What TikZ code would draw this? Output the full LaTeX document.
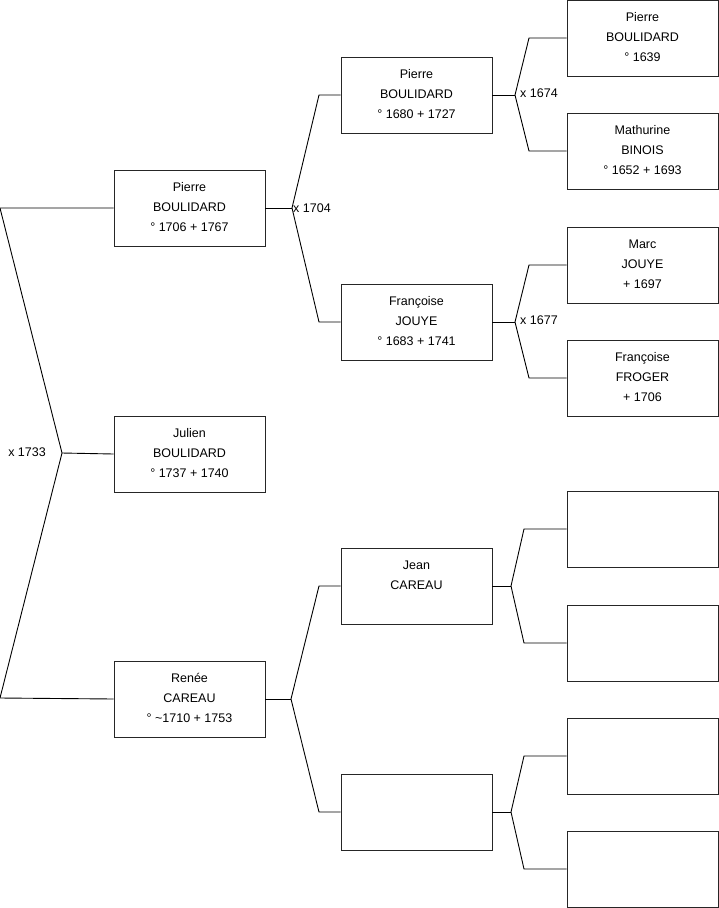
\documentclass[tikz,border=0pt]{standalone}
\usepackage{fontspec}
\setmainfont{Liberation Sans}
\tikzset{
  pbox/.style={draw=black!85, line width=0.9pt, minimum width=151pt, minimum height=76pt, inner sep=0pt},
  ptext/.style={anchor=north, inner sep=0pt, align=center, font=\fontsize{12.5}{20}\selectfont},
  link/.style={draw=black, line width=0.9pt},
  mlabel/.style={inner sep=0pt, font=\fontsize{12.5}{15}\selectfont}
}
\newcommand\pbox[4]{%
  \node[pbox] (#1) at (#2+75.5,#3+38) {};
  \node[ptext] (#1t) at (#2+75.5,#3+7) {#4};
}
\begin{document}
\begin{tikzpicture}[x=1pt,y=-1pt]
\useasboundingbox (0,0) rectangle (719,908);
% column 1
\pbox{p1}{114}{170}{\strut Pierre\\\strut BOULIDARD\\\strut ° 1706 + 1767}
\pbox{j}{114}{416}{\strut Julien\\\strut BOULIDARD\\\strut ° 1737 + 1740}
\pbox{r}{114}{661}{\strut Renée\\\strut CAREAU\\\strut ° \textasciitilde1710 + 1753}
% column 2
\pbox{p2}{341}{57}{\strut Pierre\\\strut BOULIDARD\\\strut ° 1680 + 1727}
\pbox{f2}{341}{284}{\strut Françoise\\\strut JOUYE\\\strut ° 1683 + 1741}
\pbox{jc}{341}{548}{\strut Jean\\\strut CAREAU}
\node[pbox] (e2) at (341+75.5,774+38) {};
% column 3
\pbox{p3}{567}{0}{\strut Pierre\\\strut BOULIDARD\\\strut ° 1639}
\pbox{m3}{567}{113}{\strut Mathurine\\\strut BINOIS\\\strut ° 1652 + 1693}
\pbox{mj}{567}{227}{\strut Marc\\\strut JOUYE\\\strut + 1697}
\pbox{ff}{567}{340}{\strut Françoise\\\strut FROGER\\\strut + 1706}
\node[pbox] (e3a) at (567+75.5,491+38) {};
\node[pbox] (e3b) at (567+75.5,605+38) {};
\node[pbox] (e3c) at (567+75.5,718+38) {};
\node[pbox] (e3d) at (567+75.5,831+38) {};
% root fork
\coordinate (ra) at (62,453);
\coordinate (rt) at (0,208);
\coordinate (rb) at (0,698);
\draw[link] (p1.west) -- (rt) -- (ra) -- (rb) -- (r.west);
\draw[link] (ra) -- (j.west);
\node[mlabel, anchor=east] (l1733) at (46,452) {x 1733};
% fork p1
\coordinate (a1) at (292,208);
\draw[link] (p1.east) -- (a1);
\draw[link] (p2.west) -- (319,95) -- (a1) -- (319,322) -- (f2.west);
\node[mlabel, anchor=west] (l1704) at (293,208) {x 1704};
% fork p2
\coordinate (a2) at (515,95);
\draw[link] (p2.east) -- (a2);
\draw[link] (p3.west) -- (529,38) -- (a2) -- (529,151) -- (m3.west);
\node[mlabel, anchor=west] (l1674) at (520,93) {x 1674};
% fork f2
\coordinate (a3) at (515,322);
\draw[link] (f2.east) -- (a3);
\draw[link] (mj.west) -- (529,265) -- (a3) -- (529,378) -- (ff.west);
\node[mlabel, anchor=west] (l1677) at (520,320) {x 1677};
% fork r
\coordinate (a4) at (291,699);
\draw[link] (r.east) -- (a4);
\draw[link] (jc.west) -- (319,586) -- (a4) -- (319,812) -- (e2.west);
% fork jc
\coordinate (a5) at (511,586);
\draw[link] (jc.east) -- (a5);
\draw[link] (e3a.west) -- (524,529) -- (a5) -- (524,643) -- (e3b.west);
% fork e2
\coordinate (a6) at (511,812);
\draw[link] (e2.east) -- (a6);
\draw[link] (e3c.west) -- (524,756) -- (a6) -- (524,869) -- (e3d.west);
\end{tikzpicture}
\end{document}
